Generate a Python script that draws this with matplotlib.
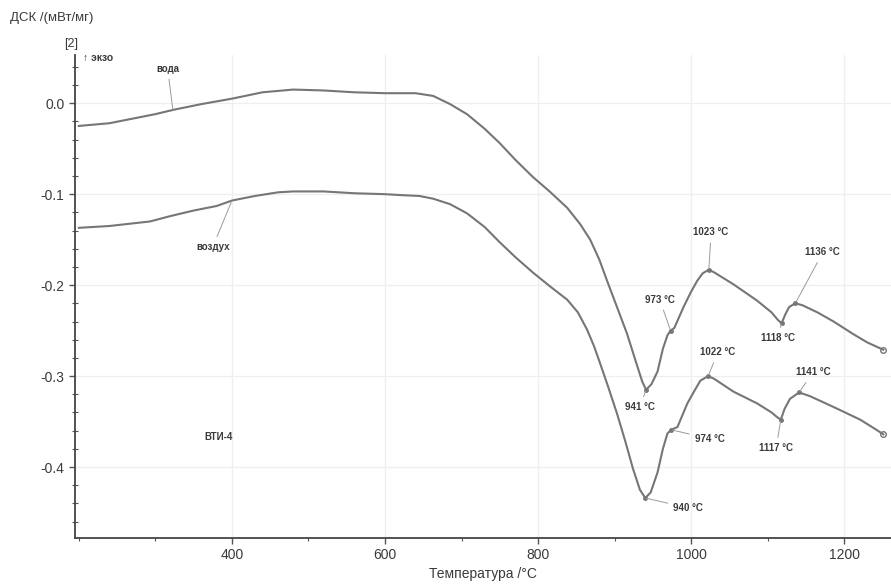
import matplotlib
matplotlib.use("Agg")
import matplotlib.pyplot as plt
from matplotlib.ticker import MultipleLocator

plt.rcParams['font.family'] = ['Liberation Sans', 'DejaVu Sans']

# --- data -------------------------------------------------------------
temp_water = [200, 240, 270, 300, 325, 360, 400, 440, 480, 520, 560, 600, 620, 640,
              663, 685, 707, 730, 750, 770, 793, 815, 838, 855, 868, 880, 890, 903,
              916, 928, 936, 941, 948, 956, 963, 969, 973, 978, 990, 1000, 1008, 1015,
              1023, 1030, 1055, 1086, 1105, 1113, 1118, 1123, 1128, 1136, 1145, 1165,
              1186, 1212, 1230, 1243, 1251]
dsc_water = [-0.025, -0.022, -0.017, -0.012, -0.007, -0.001, 0.005, 0.012, 0.015, 0.014,
             0.012, 0.011, 0.011, 0.011, 0.008, -0.001, -0.012, -0.028, -0.044, -0.062,
             -0.081, -0.097, -0.115, -0.133, -0.150, -0.172, -0.195, -0.224, -0.253,
             -0.285, -0.306, -0.315, -0.309, -0.295, -0.270, -0.255, -0.250, -0.247,
             -0.224, -0.207, -0.195, -0.187, -0.183, -0.186, -0.199, -0.217, -0.230,
             -0.238, -0.242, -0.232, -0.224, -0.220, -0.222, -0.230, -0.240, -0.254,
             -0.263, -0.268, -0.271]

temp_air = [200, 240, 293, 320, 350, 380, 400, 430, 460, 480, 520, 560, 600, 620, 645,
            663, 685, 707, 730, 750, 770, 793, 815, 838, 852, 864, 873, 881, 892, 903,
            914, 924, 933, 940, 947, 956, 963, 969, 974, 982, 995, 1005, 1012, 1022,
            1030, 1055, 1086, 1105, 1112, 1117, 1122, 1129, 1141, 1155, 1186, 1221,
            1240, 1251]
dsc_air = [-0.137, -0.135, -0.130, -0.124, -0.118, -0.113, -0.107, -0.102, -0.098,
           -0.097, -0.097, -0.099, -0.100, -0.101, -0.102, -0.105, -0.111, -0.121,
           -0.136, -0.153, -0.169, -0.186, -0.201, -0.216, -0.230, -0.249, -0.267,
           -0.286, -0.313, -0.341, -0.372, -0.402, -0.425, -0.434, -0.428, -0.406,
           -0.380, -0.363, -0.359, -0.356, -0.330, -0.315, -0.305, -0.300, -0.303,
           -0.317, -0.330, -0.340, -0.345, -0.348, -0.336, -0.325, -0.318, -0.322,
           -0.334, -0.348, -0.358, -0.364]

# peak annotations: (temperature, value)
peaks_water_T = [941, 973, 1023, 1118, 1136]
peaks_water_y = [-0.315, -0.250, -0.183, -0.242, -0.220]
peaks_air_T = [940, 974, 1022, 1117, 1141]
peaks_air_y = [-0.434, -0.359, -0.300, -0.348, -0.318]

x_ticks = [400, 600, 800, 1000, 1200]
y_ticks = [0.0, -0.1, -0.2, -0.3, -0.4]

# --- figure -----------------------------------------------------------
fig = plt.figure(figsize=(8.91, 5.85), dpi=100)
ax = fig.add_axes([75 / 891, 47 / 585, 816 / 891, 483 / 585])

line_c = '#767676'
txt_c = '#3a3a3a'
ax.plot(temp_water, dsc_water, color=line_c, lw=1.5, solid_joinstyle='round')
ax.plot(temp_air, dsc_air, color=line_c, lw=1.5, solid_joinstyle='round')
ax.plot([temp_water[-1]], [dsc_water[-1]], marker='o', ms=4, mfc='none', mec=line_c)
ax.plot([temp_air[-1]], [dsc_air[-1]], marker='o', ms=4, mfc='none', mec=line_c)

ax.set_xlim(195, 1261)
ax.set_ylim(-0.478, 0.053)
ax.set_xticks(x_ticks)
ax.set_yticks(y_ticks)
ax.set_yticklabels([f"{v:.1f}" for v in y_ticks])
ax.xaxis.set_minor_locator(MultipleLocator(100))
ax.yaxis.set_minor_locator(MultipleLocator(0.02))
ax.tick_params(axis='both', which='major', labelsize=10, colors='#555555',
               labelcolor=txt_c, length=4, width=1)
ax.tick_params(axis='both', which='minor', length=2.5, width=0.8, colors='#555555')
ax.tick_params(axis='y', which='minor', direction='inout', length=4)
for s in ['top', 'right']:
    ax.spines[s].set_visible(False)
for s in ['left', 'bottom']:
    ax.spines[s].set_color('#444444')
    ax.spines[s].set_linewidth(1.3)
ax.grid(True, which='major', color='#efefef', lw=0.9)
ax.set_axisbelow(True)

ax.set_xlabel('Температура /°C', fontsize=10, color=txt_c, labelpad=3)

# header texts
fig.text(10 / 891, 1 - 18 / 585, 'ДСК /(мВт/мг)', fontsize=9.5, color=txt_c,
         va='center', ha='left')
fig.text(78 / 891, 1 - 44 / 585, '[2]', fontsize=9, color=txt_c, va='center', ha='right')
fig.text(83 / 891, 1 - 58 / 585, '↑ экзо', fontsize=7.5, color=txt_c, va='center',
         ha='left', fontweight='bold')

ann_kw = dict(fontsize=7, fontweight='bold', color=txt_c, ha='center', va='center',
              arrowprops=dict(arrowstyle='-', color='#9a9a9a', lw=0.7, shrinkA=2, shrinkB=1))

# labels for the curves
ax.annotate('вода', xy=(323, -0.008), xytext=(316, 0.038), **ann_kw)
ax.annotate('воздух', xy=(400, -0.107), xytext=(375, -0.158), **ann_kw)
ax.text(382, -0.367, 'ВТИ-4', fontsize=7, fontweight='bold', color=txt_c,
        ha='center', va='center')

# water peak labels
water_text_pos = [(933, -0.334), (959, -0.216), (1026, -0.142), (1113, -0.258), (1172, -0.164)]
for T, y, pos in zip(peaks_water_T, peaks_water_y, water_text_pos):
    ax.annotate(f'{T} °C', xy=(T, y), xytext=pos, **ann_kw)
    ax.plot([T], [y], marker='o', ms=2.5, color=line_c)

air_text_pos = [(996, -0.445), (1024, -0.369), (1035, -0.274), (1111, -0.379), (1159, -0.296)]
for T, y, pos in zip(peaks_air_T, peaks_air_y, air_text_pos):
    ax.annotate(f'{T} °C', xy=(T, y), xytext=pos, **ann_kw)
    ax.plot([T], [y], marker='o', ms=2.5, color=line_c)

fig.savefig('out.png', dpi=100)
